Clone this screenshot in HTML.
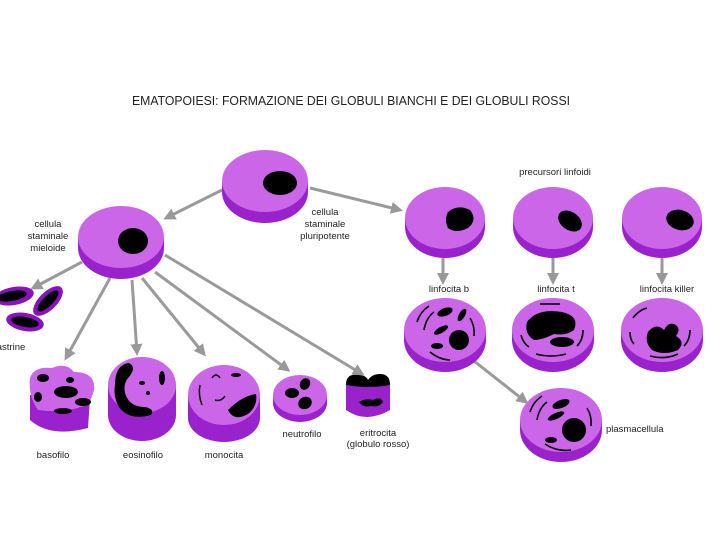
<!DOCTYPE html>
<html><head><meta charset="utf-8"><style>
html,body{margin:0;padding:0;background:#fff;}
svg{display:block;}
text{font-family:"Liberation Sans",sans-serif;fill:#222;}
</style></head><body>
<svg width="720" height="540" viewBox="0 0 720 540" xmlns="http://www.w3.org/2000/svg">
<defs>
<marker id="ah" markerWidth="4" markerHeight="4" refX="3" refY="2" orient="auto" markerUnits="strokeWidth">
<path d="M0,0 L4,2 L0,4 Z" fill="#999"/></marker>
</defs>
<rect width="720" height="540" fill="#fff"/>
<text x="132" y="105" font-size="12.5" textLength="438" lengthAdjust="spacingAndGlyphs">EMATOPOIESI: FORMAZIONE DEI GLOBULI BIANCHI E DEI GLOBULI ROSSI</text>

<g stroke="#9a9a9a" stroke-width="3" fill="none" marker-end="url(#ah)">
<line x1="222" y1="190" x2="166" y2="218"/>
<line x1="310" y1="188" x2="400" y2="210"/>
<line x1="82" y1="262" x2="33" y2="288"/>
<line x1="110" y1="278" x2="66" y2="358"/>
<line x1="132" y1="280" x2="137" y2="353"/>
<line x1="142" y1="278" x2="204" y2="354"/>
<line x1="155" y1="272" x2="288" y2="370"/>
<line x1="165" y1="255" x2="362" y2="374"/>
<line x1="443" y1="258" x2="443" y2="282"/>
<line x1="553" y1="258" x2="553" y2="282"/>
<line x1="662" y1="258" x2="662" y2="282"/>
<line x1="474" y1="361" x2="526" y2="402"/>
</g>

<g>
<ellipse cx="265" cy="192" rx="43" ry="31" fill="#9a22cc"/>
<rect x="222" y="181" width="86" height="11" fill="#9a22cc"/>
<ellipse cx="265" cy="181" rx="43" ry="31" fill="#cc66e8"/>
<ellipse cx="280" cy="183" rx="17" ry="12" fill="#000"/>

<ellipse cx="121" cy="248" rx="43" ry="31" fill="#9a22cc"/>
<rect x="78" y="237" width="86" height="11" fill="#9a22cc"/>
<ellipse cx="121" cy="237" rx="43" ry="31" fill="#cc66e8"/>
<ellipse cx="133" cy="241" rx="15" ry="13" fill="#000"/>

<g fill="#9a22cc"><ellipse cx="445" cy="227" rx="40" ry="31"/><rect x="405" y="218" width="80" height="9"/>
<ellipse cx="553" cy="227" rx="40" ry="31"/><rect x="513" y="218" width="80" height="9"/>
<ellipse cx="662" cy="227" rx="40" ry="31"/><rect x="622" y="218" width="80" height="9"/></g>
<g fill="#cc66e8"><ellipse cx="445" cy="218" rx="40" ry="31"/><ellipse cx="553" cy="218" rx="40" ry="31"/><ellipse cx="662" cy="218" rx="40" ry="31"/></g>
<path d="M448,212 q10,-8 22,-2 q8,10 -2,18 q-12,6 -20,0 q-4,-8 0,-16z" fill="#000"/>
<ellipse cx="570" cy="221" rx="13" ry="9" transform="rotate(35 570 221)" fill="#000"/>
<ellipse cx="680" cy="220" rx="14" ry="10" transform="rotate(15 680 220)" fill="#000"/>

<g fill="#9a22cc"><ellipse cx="445" cy="340" rx="41" ry="32"/><rect x="404" y="330" width="82" height="10"/>
<ellipse cx="553" cy="340" rx="41" ry="32"/><rect x="512" y="330" width="82" height="10"/>
<ellipse cx="662" cy="340" rx="41" ry="32"/><rect x="621" y="330" width="82" height="10"/>
<ellipse cx="561" cy="430" rx="41" ry="32"/><rect x="520" y="420" width="82" height="10"/></g>
<g fill="#cc66e8"><ellipse cx="445" cy="330" rx="41" ry="32"/><ellipse cx="553" cy="330" rx="41" ry="32"/><ellipse cx="662" cy="330" rx="41" ry="32"/><ellipse cx="561" cy="420" rx="41" ry="32"/></g>
<g fill="#000">
<circle cx="459" cy="340" r="10"/><ellipse cx="445" cy="312" rx="8" ry="4" transform="rotate(-20 445 312)"/><ellipse cx="441" cy="330" rx="8" ry="3" transform="rotate(-30 441 330)"/><ellipse cx="437" cy="346" rx="6" ry="3"/><ellipse cx="462" cy="315" rx="3" ry="7" transform="rotate(30 462 315)"/>
<path d="M527,322 q10,-14 35,-10 q18,4 12,18 q-8,6 -20,4 q-12,6 -20,6 q-10,-6 -7,-18z"/><ellipse cx="562" cy="342" rx="12" ry="5"/>
<path d="M648,332 q8,-10 16,-2 q4,-8 10,-6 q8,4 2,12 q10,6 2,14 q-14,6 -26,0 q-8,-8 -4,-18z"/>
<circle cx="574" cy="430" r="12"/><ellipse cx="561" cy="404" rx="9" ry="4" transform="rotate(-20 561 404)"/><ellipse cx="556" cy="416" rx="9" ry="3" transform="rotate(-25 556 416)"/><ellipse cx="551" cy="440" rx="6" ry="3"/>
</g>
<g stroke="#000" stroke-width="1.6" fill="none">
<path d="M417,322 q3,-10 12,-16"/><path d="M424,330 q2,-12 10,-18"/><path d="M470,318 q5,8 4,18"/><path d="M430,352 q10,8 20,8"/>
<path d="M540,304 h20"/><path d="M521,335 q2,8 8,12"/><path d="M536,354 q15,4 30,0"/><path d="M583,330 q0,10 -6,16"/>
<path d="M633,318 q6,-8 14,-10"/><path d="M630,332 q0,8 4,12"/><path d="M650,356 q15,4 28,-2"/><path d="M690,330 q0,10 -6,16"/>
<path d="M530,412 q3,-10 12,-16"/><path d="M537,420 q2,-12 10,-18"/><path d="M587,408 q5,8 4,18"/><path d="M545,444 q12,8 26,6"/>
</g>

<g fill="#8a10c0">
<ellipse cx="14" cy="296" rx="20" ry="9" transform="rotate(-10 14 296)"/>
<ellipse cx="48" cy="301" rx="19" ry="9" transform="rotate(-45 48 301)"/>
<ellipse cx="25" cy="322" rx="19" ry="9" transform="rotate(10 25 322)"/>
</g>
<g fill="#000">
<ellipse cx="12" cy="296" rx="15" ry="5" transform="rotate(-10 12 296)"/>
<ellipse cx="48" cy="301" rx="14" ry="5" transform="rotate(-45 48 301)"/>
<ellipse cx="25" cy="322" rx="14" ry="5" transform="rotate(10 25 322)"/>
</g>

<path d="M30,395 L30,420 q20,18 58,8 L90,398 Z" fill="#9a22cc"/>
<path d="M30,378 q4,-12 22,-10 q14,-6 22,4 q22,0 20,18 q-2,8 -6,14 q-20,10 -50,6 q-10,-14 -8,-32z" fill="#cc66e8"/>
<g fill="#000"><ellipse cx="43" cy="378" rx="6" ry="4"/><ellipse cx="66" cy="392" rx="12" ry="6"/><ellipse cx="38" cy="397" rx="4" ry="5"/><ellipse cx="83" cy="402" rx="8" ry="4"/><ellipse cx="63" cy="411" rx="9" ry="3"/><ellipse cx="70" cy="380" rx="4" ry="3"/></g>

<ellipse cx="142" cy="415" rx="34" ry="26" fill="#9a22cc"/>
<rect x="108" y="385" width="68" height="30" fill="#9a22cc"/>
<ellipse cx="142" cy="385" rx="34" ry="28" fill="#cc66e8"/>
<g fill="#000"><path d="M115,385 q0,-20 14,-22 q8,4 0,14 q-6,6 -4,16 q4,14 20,14 q10,2 6,8 q-22,6 -32,-8 q-6,-10 -4,-22z"/><ellipse cx="162" cy="378" rx="3" ry="7"/><ellipse cx="142" cy="383" rx="3" ry="2"/><ellipse cx="148" cy="393" rx="2" ry="2"/></g>

<ellipse cx="224" cy="418" rx="36" ry="24" fill="#9a22cc"/>
<rect x="188" y="395" width="72" height="23" fill="#9a22cc"/>
<ellipse cx="224" cy="395" rx="36" ry="30" fill="#cc66e8"/>
<path d="M228,410 q14,-14 28,-16 q2,12 -8,20 q-14,8 -20,-4z" fill="#000"/>
<g stroke="#000" stroke-width="1.5" fill="none"><path d="M200,385 q-2,10 2,20"/><path d="M212,378 q4,-6 8,0"/><path d="M215,400 q6,2 10,-4"/></g>
<ellipse cx="236" cy="375" rx="5" ry="2" fill="#000"/>

<ellipse cx="300" cy="403" rx="27" ry="19" fill="#9a22cc"/>
<rect x="273" y="395" width="54" height="8" fill="#9a22cc"/>
<ellipse cx="300" cy="395" rx="27" ry="20" fill="#cc66e8"/>
<g fill="#000"><ellipse cx="292" cy="393" rx="7" ry="5"/><ellipse cx="305" cy="384" rx="5" ry="6" transform="rotate(30 305 384)"/><ellipse cx="305" cy="403" rx="7" ry="6" transform="rotate(-30 305 403)"/></g>

<path d="M346,385 L346,410 q20,14 44,0 L390,385 Z" fill="#9a22cc"/>
<path d="M346,385 q0,-12 12,-10 q8,0 10,5 q4,-6 12,-6 q10,0 10,11 q-20,4 -44,0z" fill="#000"/>
<path d="M359,402 q6,-4 14,-2 q8,-4 10,2 q-4,6 -12,4 q-8,2 -12,-4z" fill="#000"/>
</g>

<g font-size="9.5" text-anchor="middle">
<text x="48" y="227">cellula</text><text x="48" y="239">staminale</text><text x="48" y="251">mieloide</text>
<text x="325" y="215">cellula</text><text x="325" y="227">staminale</text><text x="325" y="239">pluripotente</text>
<text x="555" y="175">precursori linfoidi</text>
<text x="449" y="292">linfocita b</text><text x="556" y="292">linfocita t</text><text x="667" y="292">linfocita killer</text>
<text x="11" y="350">astrine</text>
<text x="53" y="458">basofilo</text><text x="143" y="458">eosinofilo</text><text x="224" y="458">monocita</text>
<text x="302" y="437">neutrofilo</text>
<text x="378" y="436">eritrocita</text><text x="378" y="447">(globulo rosso)</text>
</g>
<text x="606" y="432" font-size="9.5">plasmacellula</text>
</svg>
</body></html>
